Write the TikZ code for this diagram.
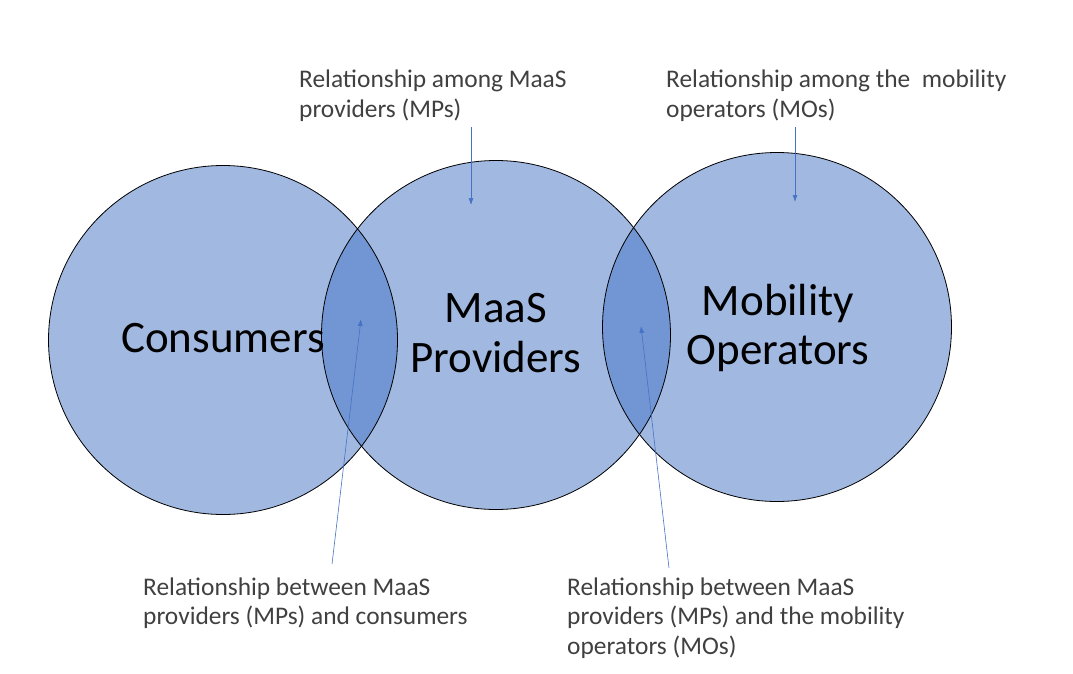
\documentclass[tikz,border=0pt]{standalone}
\usepackage{fontspec}
\setmainfont{Carlito}
\usetikzlibrary{arrows.meta}
\definecolor{maasblue}{RGB}{68,114,196}
\definecolor{labelgrey}{RGB}{64,64,64}
\tikzset{
party/.style = {circle, fill=maasblue, fill opacity=0.5, minimum size=349pt, inner sep=0pt},
ring/.style = {draw=black, line width=0.8pt},
partyname/.style = {font=\fontsize{45}{49.5}\selectfont, align=center, text=black, inner sep=0pt},
relation/.style = {font=\fontsize{25.4}{29.5}\selectfont, align=left, text=labelgrey, anchor=base west, inner sep=0pt},
relline/.style = {draw=maasblue, line width=0.6pt, -{Latex[length=7pt,width=5pt]}}
}

\begin{document}
\begin{tikzpicture}[x=1pt, y=-1pt]
    \useasboundingbox (0,0) rectangle (1073,674);

    % the three parties
    \node [party] (cons) at (223,340) {};
    \node [party] (maas) at (496,335) {};
    \node [party] (mob) at (777,327) {};
    \foreach \p in {cons,maas,mob}
        \draw [ring] (\p.center) circle [radius=174.5pt];

    \node [partyname] (consname) at (223,338) {Consumers};
    \node [partyname] (maasname) at (496,333) {MaaS\\Providers};
    \node [partyname] (mobname) at (778,328) {Mobility\\Operators};

    % relationships (anchored on the last line)
    \node [relation] (amongmp) at (299,117.5) {Relationship among MaaS\\providers (MPs)};
    \node [relation] (amongmo) at (666,117.5) {Relationship among the\ \ mobility\\operators (MOs)};
    \node [relation] (betweenmc) at (143,624.5) {Relationship between MaaS\\providers (MPs) and consumers};
    \node [relation] (betweenmm) at (567,654) {Relationship between MaaS\\providers (MPs) and the mobility\\operators (MOs)};

    \coordinate (inmaas) at (471,205);
    \coordinate (inmob) at (795,202);
    \coordinate (lensleft) at (361,319);
    \coordinate (lensright) at (641,326);

    \path [relline] (amongmp.south -| inmaas) ++(0,5) -- (inmaas);
    \path [relline] (amongmo.south -| inmob) ++(0,5) -- (inmob);
    \path [relline] (betweenmc.north west) ++(189,-13) -- (lensleft);
    \path [relline] (betweenmm.north west) ++(102,-9) -- (lensright);
\end{tikzpicture}
\end{document}
